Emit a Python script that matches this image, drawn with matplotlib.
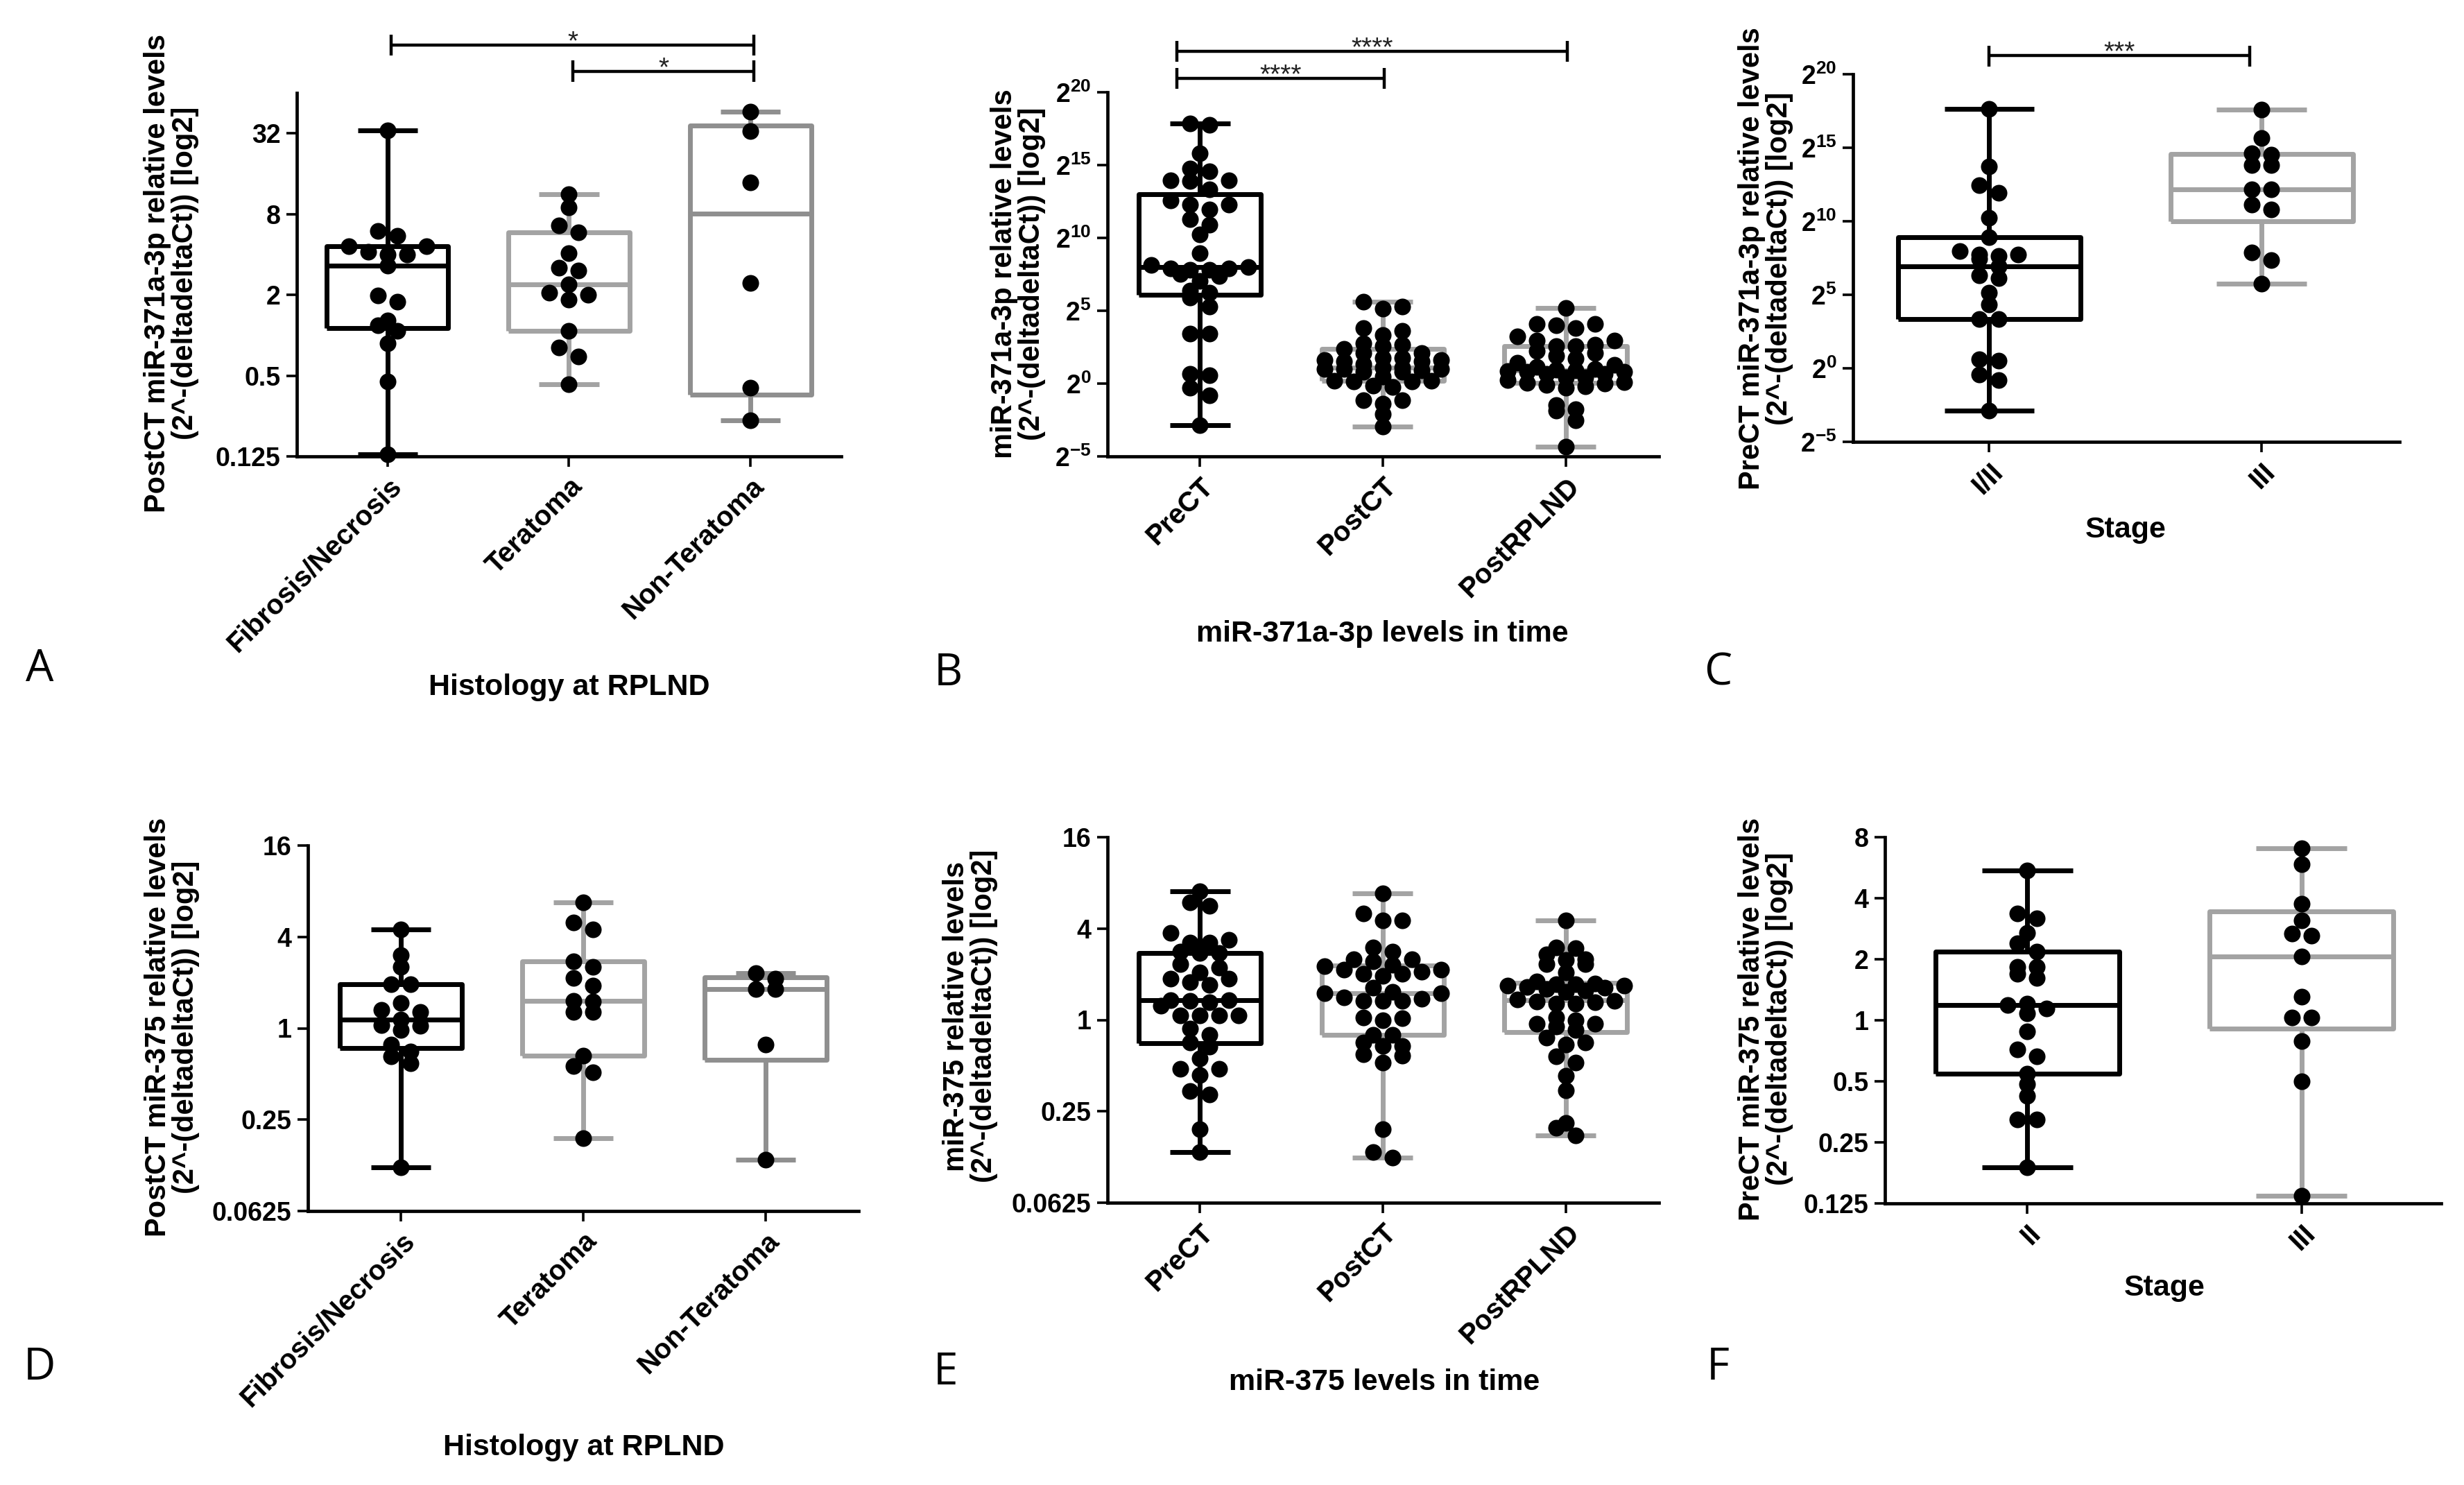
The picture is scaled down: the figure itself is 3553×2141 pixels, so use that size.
import numpy as np
import matplotlib
matplotlib.use('Agg')
import matplotlib.pyplot as plt
from matplotlib import cbook, transforms
from matplotlib.ticker import FixedLocator, FixedFormatter, NullLocator

plt.rcParams['font.family'] = ['Liberation Sans', 'DejaVu Sans']
plt.rcParams['mathtext.fontset'] = 'custom'
plt.rcParams['mathtext.rm'] = 'Liberation Sans:bold'
plt.rcParams['mathtext.bf'] = 'Liberation Sans:bold'
plt.rcParams['mathtext.it'] = 'Liberation Sans:bold'

# ---------------- data (log2 of 2^-(ddCt)) ----------------
cats_hist = ['Fibrosis/Necrosis', 'Teratoma', 'Non-Teratoma']
cats_time = ['PreCT', 'PostCT', 'PostRPLND']
cats_stage_c = ['I/II', 'III']
cats_stage_f = ['II', 'III']

a_fibrosis = [5.08, 2.47, 2.59, 2.2, 2.07, 2.0, 2.0, 2.2, 1.72, 0.83, 0.98, 0.25, 0.37, 0.11, -0.2, -1.15, -2.94]
a_teratoma = [3.49, 3.17, 2.72, 2.55, 2.03, 1.61, 1.67, 1.26, 1.0, 0.89, 1.06, 0.11, -0.3, -0.52, -1.22]
a_nonteratoma = [5.54, 5.05, 3.78, 1.29, -1.3, -2.11]

b_prect = [17.87, 17.77, 15.8, 14.59, 14.78, 13.95, 13.89, 13.95, 13.34, 12.29, 11.97, 12.55, 12.29,
           11.27, 10.89, 10.22, 8.95, 7.99, 7.9, 7.83, 7.83, 7.9, 8.15, 7.36, 7.04, 7.52, 6.4, 6.24,
           5.92, 5.29, 3.44, 3.44, 0.67, 0.57, -0.29, -0.83, -2.87]
b_postct = [5.6, 5.29, 5.13, 3.79, 3.63, 3.31, 2.74, 2.67, 2.58, 2.36, 2.1, 2.1, 1.78, 1.78, 1.6, 1.6,
            1.53, 1.53, 1.31, 1.1, 1.1, 1.0, 0.99, 0.99, 0.9, 0.83, 0.83, 0.5, 0.19, 0.19, 0.13, 0.13,
            -0.13, -0.22, -1.15, -1.15, -1.4, -2.1, -2.93]
b_postrplnd = [5.19, 4.11, 4.11, 4.01, 3.79, 3.22, 2.96, 2.96, 2.67, 2.58, 2.58, 2.26, 2.1, 1.9, 1.7,
               1.45, 1.3, 1.15, 1.0, 0.95, 0.9, 0.85, 0.83, 0.83, 0.67, 0.67, 0.45, 0.45, 0.25, 0.1,
               0.05, 0.0, -0.1, -0.2, -0.3, -1.46, -1.78, -1.88, -2.52, -4.33]

c_stage12 = [17.63, 13.73, 12.47, 11.93, 10.25, 8.92, 7.72, 7.66, 7.44, 7.72, 7.97, 6.93, 6.14, 6.33,
             5.13, 4.34, 3.35, 3.35, 0.6, 0.54, -0.41, -0.82, -2.88]
c_stage3 = [17.6, 15.66, 14.62, 14.53, 13.83, 13.83, 12.18, 12.18, 10.82, 11.14, 7.88, 7.34, 5.76]

d_fibrosis = [2.16, 1.6, 1.34, 0.97, 0.97, 0.56, 0.35, 0.4, 0.07, -0.04, 0.05, 0.19, -0.36, -0.62,
              -0.76, -0.51, -3.05]
d_teratoma = [2.76, 2.31, 2.16, 1.46, 1.1, 1.34, 0.93, 0.58, 0.6, 0.35, 0.35, -0.6, -0.83, -0.96, -2.4]
d_nonteratoma = [1.09, 1.2, 0.86, 0.86, -0.36, -2.87]

e_prect = [2.81, 2.58, 2.49, 1.7, 1.76, 1.91, 1.7, 1.5, 1.47, 1.47, 1.15, 1.22, 0.91, 0.83, 0.76, 0.91,
           1.04, 0.31, 0.44, 0.41, 0.44, 0.38, 0.1, 0.1, 0.1, 0.1, -0.19, -0.33, -0.59, -0.49, -0.85,
           -1.2, -1.07, -1.07, -1.63, -1.56, -2.39, -2.89]
e_postct = [2.77, 2.33, 2.18, 2.18, 1.59, 1.5, 1.33, 1.33, 1.28, 1.2, 1.18, 1.1, 1.1, 1.05, 1.01, 1.01,
            0.97, 0.7, 0.62, 0.59, 0.59, 0.5, 0.46, 0.41, 0.41, 0.41, 0.06, 0.04, -0.01, -0.33, -0.33,
            -0.49, -0.57, -0.57, -0.75, -0.78, -0.93, -2.39, -2.89, -3.02]
e_postrplnd = [2.18, 1.59, 1.57, 1.43, 1.31, 1.22, 1.22, 1.33, 1.04, 0.85, 0.8, 0.78, 0.78, 0.75, 0.75,
               0.72, 0.7, 0.68, 0.65, 0.62, 0.45, 0.42, 0.4, 0.38, 0.35, 0.35, 0.06, -0.09, -0.22,
               -0.09, -0.15, 0.0, -0.54, -0.38, -0.49, -0.93, -0.8, -1.22, -1.54, -2.26, -2.36, -2.52]

f_stage2 = [2.46, 1.67, 1.75, 1.43, 1.26, 1.12, 0.88, 0.88, 0.69, 0.76, 0.25, 0.19, 0.27, 0.11, -0.18,
            -0.48, -0.59, -0.88, -1.05, -1.24, -1.62, -1.62, -2.41]
f_stage3 = [2.82, 2.56, 1.91, 1.64, 1.39, 1.42, 1.04, 0.39, 0.05, 0.05, -0.34, -1.0, -2.88]

ticks_a = ['0.125', '0.5', '2', '8', '32']
ticks_pow = [r'$\mathbf{2^{-5}}$', r'$\mathbf{2^{0}}$', r'$\mathbf{2^{5}}$', r'$\mathbf{2^{10}}$',
             r'$\mathbf{2^{15}}$', r'$\mathbf{2^{20}}$']
ticks_d = ['0.0625', '0.25', '1', '4', '16']
ticks_f = ['0.125', '0.25', '0.5', '1', '2', '4', '8']

# ---------------- figure ----------------
W, H = 3553, 2141
fig = plt.figure(figsize=(W / 100, H / 100), dpi=100, facecolor='white')

BLACK = 'black'
GRAY = '#a3a3a3'
GRAY2 = '#8f8f8f'
LW = 5.0
PT_S = 300
DOT_SP = 28.0   # horizontal spacing of dots in a row (px)
ROW_H = 14.0    # vertical extent of a row (px)
MAX_ROW = 7     # max dots in one row


def yf(p):
    return 1 - p / H


def make_ax(l, r, t, b):
    return fig.add_axes([l / W, 1 - b / H, (r - l) / W, (b - t) / H])


def setup(ax, xlim, ylim_exp, ytick_exp, ytick_labels):
    ax.set_yscale('log', base=2)
    ax.set_ylim(2.0 ** ylim_exp[0], 2.0 ** ylim_exp[1])
    ax.set_xlim(*xlim)
    ax.yaxis.set_major_locator(FixedLocator(2.0 ** np.array(ytick_exp, dtype=float)))
    ax.yaxis.set_major_formatter(FixedFormatter(ytick_labels))
    ax.yaxis.set_minor_locator(NullLocator())
    for s in ['top', 'right']:
        ax.spines[s].set_visible(False)
    for s in ['left', 'bottom']:
        ax.spines[s].set_linewidth(3.4)
    ax.tick_params(axis='both', direction='out', length=11, width=2.6, pad=6)
    ax.patch.set_alpha(0)


def finish(ax, xlim, cats):
    ax.set_xlim(*xlim)
    ax.set_xticks(range(len(cats)))
    ax.set_xticklabels(cats, rotation=45, ha='right', rotation_mode='anchor',
                       fontsize=29, fontweight='bold')
    for lab in ax.get_yticklabels():
        lab.set_fontsize(27)
        lab.set_fontweight('bold')


def row_slots(n):
    if n % 2:
        return [0.0] + [((k + 1) // 2) * (1 if k % 2 else -1) for k in range(1, n)]
    return [(k // 2 + 0.5) * (1 if k % 2 == 0 else -1) for k in range(n)]


def draw_group(ax, pos, vals, color):
    v = 2.0 ** np.asarray(vals, dtype=float)
    st = cbook.boxplot_stats(v, whis=(0, 100))[0]
    q1, med, q3 = np.percentile(v, [25, 50, 75], method='weibull')
    st['q1'], st['med'], st['q3'] = q1, med, q3
    st['fliers'] = np.array([])
    lp = dict(color=color, linewidth=LW, solid_capstyle='butt')
    ax.bxp([st], positions=[pos], widths=0.67, capwidths=0.33, showfliers=False,
           boxprops=lp, whiskerprops=lp, capprops=lp, medianprops=lp, zorder=2,
           manage_ticks=False)
    # row-based scatter (GraphPad style) in pixel space
    pts = ax.transData.transform(np.column_stack([np.full(len(v), pos), v]))
    x0 = pts[0, 0]
    ypx = pts[:, 1]
    order = np.argsort(ypx, kind='stable')
    groups, cur, start = [], [order[0]], ypx[order[0]]
    for i in order[1:]:
        if ypx[i] - start < ROW_H and len(cur) < MAX_ROW:
            cur.append(i)
        else:
            groups.append(cur)
            cur, start = [i], ypx[i]
    groups.append(cur)
    xs = np.zeros(len(v))
    for g in groups:
        slots = row_slots(len(g))
        for k, idx in enumerate(g):
            xs[idx] = slots[k] * DOT_SP
    xd = ax.transData.inverted().transform(np.column_stack([x0 + xs, ypx]))[:, 0]
    ax.scatter(xd, v, s=PT_S, color='black', zorder=4, clip_on=False, linewidths=0)


def sig(ax, x1, x2, ybar, ycap_t, ycap_b, text):
    tr = transforms.blended_transform_factory(ax.transData, fig.transFigure)
    ax.plot([x1, x2], [yf(ybar)] * 2, transform=tr, color='black', lw=3.2, clip_on=False,
            solid_capstyle='butt')
    for x in (x1, x2):
        ax.plot([x, x], [yf(ycap_t), yf(ycap_b)], transform=tr, color='black', lw=3.2,
                clip_on=False, solid_capstyle='butt')
    ax.text((x1 + x2) / 2, yf(ybar + 6), text, transform=tr, ha='center', va='baseline',
            fontsize=28, color='#222222')


def ylab(x, y, text):
    fig.text(x / W, yf(y), text, rotation=90, ha='center', va='center', multialignment='center',
             fontsize=30, fontweight='bold', linespacing=1.0)


def xlab(x, y, text):
    fig.text(x / W, yf(y), text, ha='center', va='center', fontsize=31, fontweight='bold')


def letter(x, y, text):
    fig.text(x / W, yf(y), text, ha='center', va='center', fontsize=46,
             family=['Open Sans', 'DejaVu Sans'])


# ---------- Panel A ----------
axA = make_ax(428, 1213, 134, 658)
xlA = (-0.5, 2.5)
setup(axA, xlA, (-3, 6), [-3, -1, 1, 3, 5], ticks_a)
draw_group(axA, 0, a_fibrosis, BLACK)
draw_group(axA, 1, a_teratoma, GRAY)
draw_group(axA, 2, a_nonteratoma, GRAY2)
finish(axA, xlA, cats_hist)
sig(axA, 0.02, 2.02, 65, 50, 80, '*')
sig(axA, 1.02, 2.02, 103, 87, 118, '*')
ylab(247, 394, 'PostCT miR-371a-3p relative levels\n(2^-(deltadeltaCt)) [log2]')
xlab(821, 991, 'Histology at RPLND')
letter(57, 965, 'A')

# ---------- Panel B ----------
axB = make_ax(1597, 2392, 133, 658)
xlB = (-0.505, 2.51)
setup(axB, xlB, (-5, 20), [-5, 0, 5, 10, 15, 20], ticks_pow)
draw_group(axB, 0, b_prect, BLACK)
draw_group(axB, 1, b_postct, GRAY)
draw_group(axB, 2, b_postrplnd, GRAY)
finish(axB, xlB, cats_time)
sig(axB, -0.125, 2.01, 74, 59, 89, '****')
sig(axB, -0.125, 1.01, 113, 98, 128, '****')
ylab(1468, 395, 'miR-371a-3p relative levels\n(2^-(deltadeltaCt)) [log2]')
xlab(1993, 914, 'miR-371a-3p levels in time')
letter(1367, 971, 'B')

# ---------- Panel C ----------
axC = make_ax(2672, 3460, 107, 637)
xlC = (-0.5, 1.506)
setup(axC, xlC, (-5, 20), [-5, 0, 5, 10, 15, 20], ticks_pow)
draw_group(axC, 0, c_stage12, BLACK)
draw_group(axC, 1, c_stage3, GRAY)
finish(axC, xlC, cats_stage_c)
sig(axC, 0.0, 0.957, 80, 66, 96, '***')
ylab(2546, 373, 'PreCT miR-371a-3p relative levels\n(2^-(deltadeltaCt)) [log2]')
xlab(3065, 764, 'Stage')
letter(2477, 971, 'C')

# ---------- Panel D ----------
axD = make_ax(444, 1238, 1219, 1746)
xlD = (-0.51, 2.51)
setup(axD, xlD, (-4, 4), [-4, -2, 0, 2, 4], ticks_d)
draw_group(axD, 0, d_fibrosis, BLACK)
draw_group(axD, 1, d_teratoma, GRAY)
draw_group(axD, 2, d_nonteratoma, GRAY2)
finish(axD, xlD, cats_hist)
ylab(248, 1481, 'PostCT miR-375 relative levels\n(2^-(deltadeltaCt)) [log2]')
xlab(842, 2087, 'Histology at RPLND')
letter(57, 1972, 'D')

# ---------- Panel E ----------
axE = make_ax(1597, 2392, 1207, 1734)
xlE = (-0.505, 2.51)
setup(axE, xlE, (-4, 4), [-4, -2, 0, 2, 4], ticks_d)
draw_group(axE, 0, e_prect, BLACK)
draw_group(axE, 1, e_postct, GRAY)
draw_group(axE, 2, e_postrplnd, GRAY)
finish(axE, xlE, cats_time)
ylab(1399, 1465, 'miR-375 relative levels\n(2^-(deltadeltaCt)) [log2]')
xlab(1996, 1993, 'miR-375 levels in time')
letter(1364, 1979, 'E')

# ---------- Panel F ----------
axF = make_ax(2718, 3520, 1207, 1735)
xlF = (-0.52, 1.51)
setup(axF, xlF, (-3, 3), [-3, -2, -1, 0, 1, 2, 3], ticks_f)
draw_group(axF, 0, f_stage2, BLACK)
draw_group(axF, 1, f_stage3, GRAY)
finish(axF, xlF, cats_stage_f)
ylab(2546, 1469, 'PreCT miR-375 relative levels\n(2^-(deltadeltaCt)) [log2]')
xlab(3121, 1857, 'Stage')
letter(2477, 1972, 'F')

fig.savefig('out.png', dpi=100, facecolor='white')
